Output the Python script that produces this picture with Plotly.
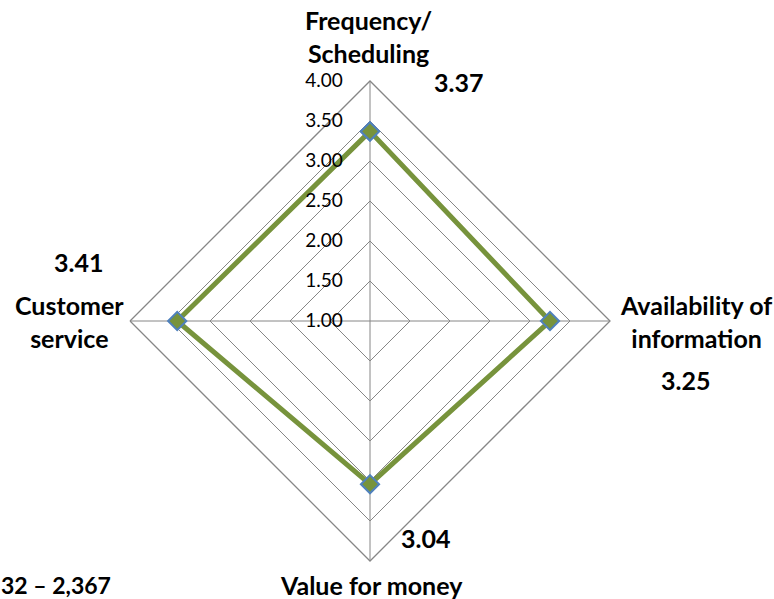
import plotly.graph_objects as go

# Survey satisfaction scores by service aspect
categories = ["Frequency/ Scheduling", "Availability of information", "Value for money", "Customer service"]
scores = [3.37, 3.25, 3.04, 3.41]
radial_ticks = [1.0, 1.5, 2.0, 2.5, 3.0, 3.5, 4.0]
sample_note = "32 \u2013 2,367"

W, H = 774, 599
FONT = "Lato"
GREEN = "#77933C"
BLUE = "#4F81BD"
GRID = "#868686"


def px(x):
    return x / W


def py(y):
    return 1 - y / H


# polar area centred at (370, 321) with a 240 px radius
cx, cy, rad = 370, 321, 240

fig = go.Figure()
fig.add_trace(go.Scatterpolar(
    r=scores + scores[:1],
    theta=categories + categories[:1],
    mode="lines+markers",
    line=dict(color=GREEN, width=5),
    marker=dict(symbol="diamond", size=14, color=GREEN,
                line=dict(color=BLUE, width=2)),
    hoverinfo="r+theta",
    showlegend=False,
))

# category labels around the web
cat_pos = [
    ("Frequency/<br>Scheduling", 368, 37),
    ("Availability of<br>information", 696, 321),
    ("Value for money", 371, 585),
    ("Customer<br>service", 69, 321),
]
annotations = []
for text, x, y in cat_pos:
    annotations.append(dict(
        text="<b>%s</b>" % text, x=px(x), y=py(y), xref="paper", yref="paper",
        xanchor="center", yanchor="middle", showarrow=False,
        font=dict(family=FONT, size=25, color="#000000"),
    ))

# value labels for each aspect
value_pos = [(458, 82), (685, 380), (425, 538), (78, 262)]
for v, (x, y) in zip(scores, value_pos):
    annotations.append(dict(
        text="<b>%.2f</b>" % v, x=px(x), y=py(y), xref="paper", yref="paper",
        xanchor="center", yanchor="middle", showarrow=False,
        font=dict(family=FONT, size=25, color="#000000"),
    ))

annotations.append(dict(
    text="<b>%s</b>" % sample_note, x=px(0), y=py(585), xref="paper", yref="paper",
    xanchor="left", yanchor="middle", showarrow=False, borderpad=0,
    font=dict(family=FONT, size=23, color="#000000"),
))

fig.update_layout(
    width=W, height=H,
    margin=dict(l=0, r=0, t=0, b=0),
    paper_bgcolor="white",
    plot_bgcolor="white",
    font=dict(family=FONT, color="#000000"),
    annotations=annotations,
    polar=dict(
        domain=dict(x=[px(cx - rad), px(cx + rad)], y=[py(cy + rad), py(cy - rad)]),
        gridshape="linear",
        bgcolor="white",
        radialaxis=dict(
            range=[1, 4],
            tickvals=radial_ticks,
            tickformat=".2f",
            angle=90,
            tickangle=90,
            side="counterclockwise",
            ticks="outside",
            ticklen=20,
            tickcolor="rgba(0,0,0,0)",
            showline=False,
            gridcolor=GRID,
            gridwidth=1.3,
            tickfont=dict(family=FONT, size=19, color="#000000"),
        ),
        angularaxis=dict(
            rotation=90,
            direction="clockwise",
            showticklabels=False,
            ticks="",
            gridcolor=GRID,
            gridwidth=1.3,
            linecolor=GRID,
            linewidth=1.3,
        ),
    ),
)

fig.write_html("out.html")
